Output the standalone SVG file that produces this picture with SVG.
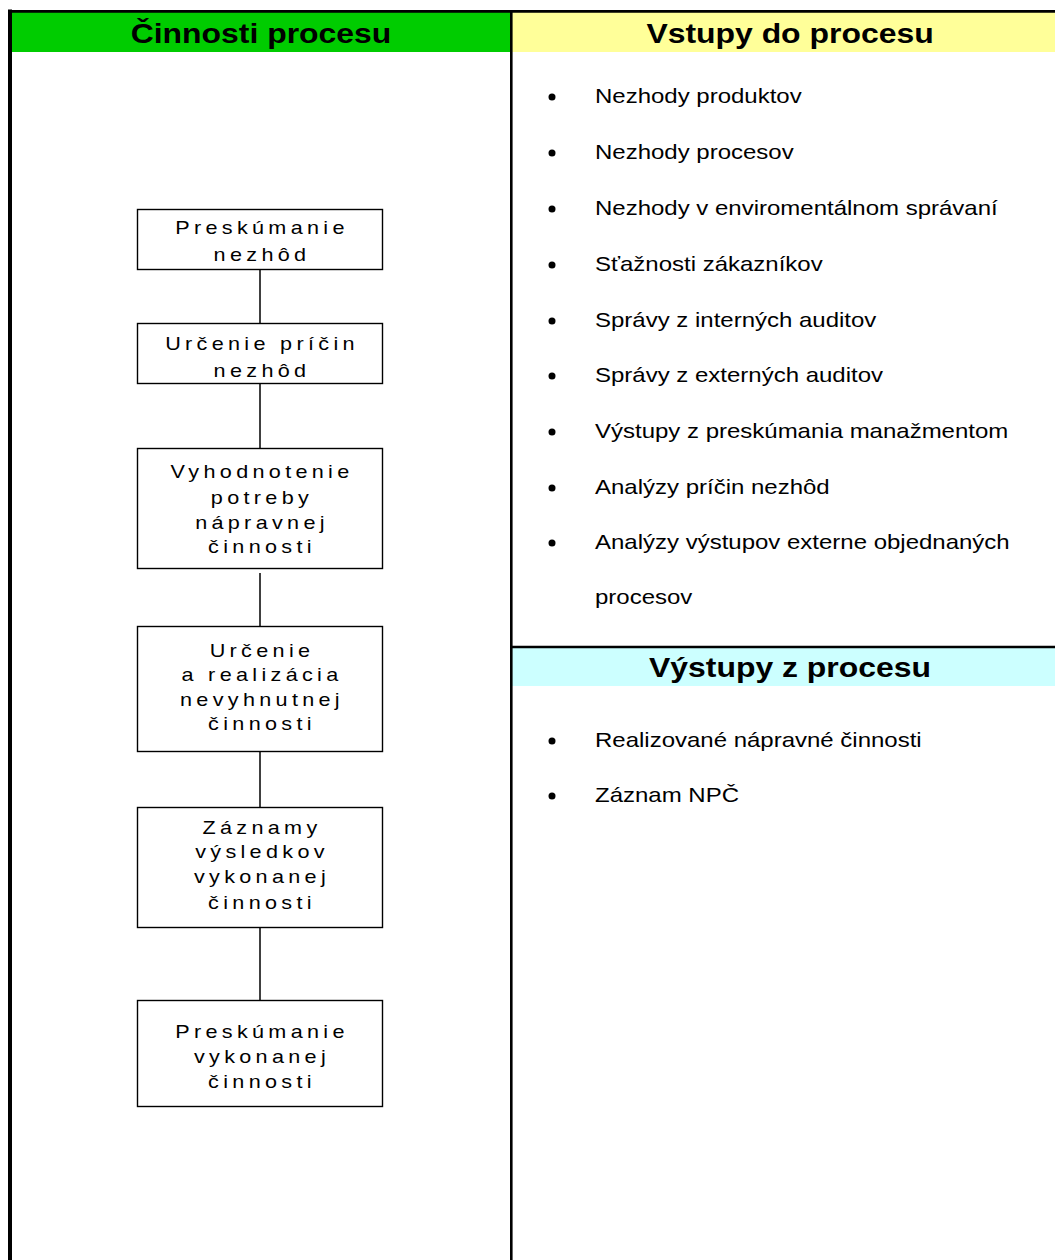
<svg xmlns="http://www.w3.org/2000/svg" width="1055" height="1260" viewBox="0 0 1055 1260">
<style>
text{font-family:"Liberation Sans",Arial,sans-serif;fill:#000}
.hdr{font-size:28px;font-weight:bold;text-anchor:middle}
.item{font-size:20px}
.bt{font-size:18px;letter-spacing:3.6px;text-anchor:middle}
.box{fill:#fff;stroke:#000;stroke-width:1.4}
.conn line{stroke:#000;stroke-width:1.5}
.bul{fill:#000}
</style>
<rect width="1055" height="1260" fill="#fff"/>
<g id="headers">
<rect x="12" y="12" width="498" height="40" fill="#00CC00"/>
<rect x="512" y="12" width="543" height="40" fill="#FFFF99"/>
<rect x="512" y="648" width="543" height="38" fill="#CCFFFF"/>
<text class="hdr" transform="translate(261,43) scale(1.14,1)">Činnosti procesu</text>
<text class="hdr" transform="translate(790,43) scale(1.14,1)">Vstupy do procesu</text>
<text class="hdr" transform="translate(790,677) scale(1.14,1)">Výstupy z procesu</text>
</g>
<g id="borders" stroke="#000" fill="none">
<line x1="10" y1="9.5" x2="10" y2="1260" stroke-width="4"/>
<line x1="8" y1="11.3" x2="1055" y2="11.3" stroke-width="2.8"/>
<line x1="511.3" y1="10" x2="511.3" y2="1260" stroke-width="2.6"/>
<line x1="510" y1="647" x2="1055" y2="647" stroke-width="2.4"/>
</g>
<g id="inputs">
<g class="bul">
<circle cx="552" cy="97" r="3.5"/>
<circle cx="552" cy="153" r="3.5"/>
<circle cx="552" cy="209" r="3.5"/>
<circle cx="552" cy="265" r="3.5"/>
<circle cx="552" cy="321" r="3.5"/>
<circle cx="552" cy="376" r="3.5"/>
<circle cx="552" cy="432" r="3.5"/>
<circle cx="552" cy="488" r="3.5"/>
<circle cx="552" cy="543" r="3.5"/>
</g>
<g transform="translate(595,0) scale(1.2,1)">
<text class="item" x="0" y="103">Nezhody produktov</text>
<text class="item" x="0" y="159">Nezhody procesov</text>
<text class="item" x="0" y="215">Nezhody v enviromentálnom správaní</text>
<text class="item" x="0" y="271">Sťažnosti zákazníkov</text>
<text class="item" x="0" y="327">Správy z interných auditov</text>
<text class="item" x="0" y="382">Správy z externých auditov</text>
<text class="item" x="0" y="438">Výstupy z preskúmania manažmentom</text>
<text class="item" x="0" y="494">Analýzy príčin nezhôd</text>
<text class="item" x="0" y="549">Analýzy výstupov externe objednaných</text>
<text class="item" x="0" y="604">procesov</text>
</g>
</g>
<g id="outputs">
<circle class="bul" cx="552" cy="741" r="3.5"/>
<circle class="bul" cx="552" cy="796" r="3.5"/>
<g transform="translate(595,0) scale(1.2,1)">
<text class="item" x="0" y="747">Realizované nápravné činnosti</text>
<text class="item" x="0" y="802">Záznam NPČ</text>
</g>
</g>
<g class="conn" id="connectors">
<line x1="260" y1="269" x2="260" y2="323"/>
<line x1="260" y1="383" x2="260" y2="448"/>
<line x1="260" y1="573" x2="260" y2="626"/>
<line x1="260" y1="751" x2="260" y2="807"/>
<line x1="260" y1="927" x2="260" y2="1000"/>
</g>
<g id="n1">
<rect class="box" x="137.5" y="209.5" width="245" height="60"/>
<g transform="translate(262,0) scale(1.2,1)">
<text class="bt" x="0" y="234.5">Preskúmanie</text>
<text class="bt" x="0" y="261.5">nezhôd</text>
</g>
</g>
<g id="n2">
<rect class="box" x="137.5" y="323.5" width="245" height="60"/>
<g transform="translate(262,0) scale(1.2,1)">
<text class="bt" x="0" y="350">Určenie príčin</text>
<text class="bt" x="0" y="377">nezhôd</text>
</g>
</g>
<g id="n3">
<rect class="box" x="137.5" y="448.5" width="245" height="120"/>
<g transform="translate(262,0) scale(1.2,1)">
<text class="bt" x="0" y="478.5">Vyhodnotenie</text>
<text class="bt" x="0" y="504">potreby</text>
<text class="bt" x="0" y="529">nápravnej</text>
<text class="bt" x="0" y="553.5">činnosti</text>
</g>
</g>
<g id="n4">
<rect class="box" x="137.5" y="626.5" width="245" height="125"/>
<g transform="translate(262,0) scale(1.2,1)">
<text class="bt" x="0" y="657">Určenie</text>
<text class="bt" x="0" y="681.5">a realizácia</text>
<text class="bt" x="0" y="706">nevyhnutnej</text>
<text class="bt" x="0" y="730.5">činnosti</text>
</g>
</g>
<g id="n5">
<rect class="box" x="137.5" y="807.5" width="245" height="120"/>
<g transform="translate(262,0) scale(1.2,1)">
<text class="bt" x="0" y="834">Záznamy</text>
<text class="bt" x="0" y="858.5">výsledkov</text>
<text class="bt" x="0" y="883.5">vykonanej</text>
<text class="bt" x="0" y="909">činnosti</text>
</g>
</g>
<g id="n6">
<rect class="box" x="137.5" y="1000.5" width="245" height="106"/>
<g transform="translate(262,0) scale(1.2,1)">
<text class="bt" x="0" y="1038">Preskúmanie</text>
<text class="bt" x="0" y="1063">vykonanej</text>
<text class="bt" x="0" y="1088">činnosti</text>
</g>
</g>
</svg>
